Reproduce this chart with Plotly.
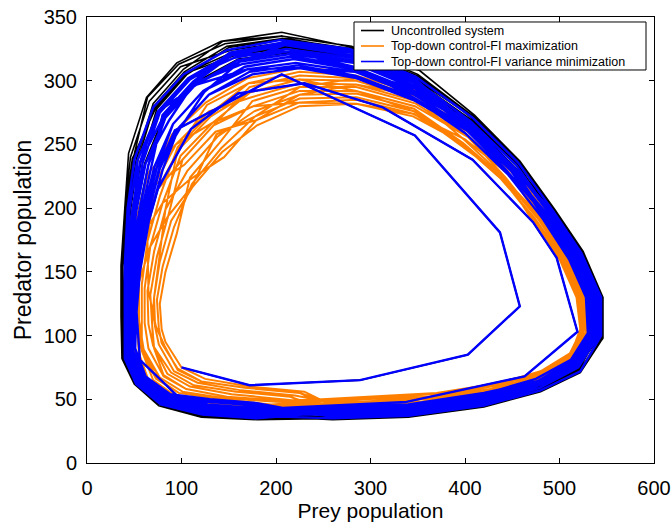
import plotly.graph_objects as go

# (prey, predator) states of the simulated runs. Each run is stored as a
# sequence of population cycles; within a cycle the states run counter-clockwise
# from the lower-left corner of the phase plane.

# Opening swings shared by the uncontrolled and variance-minimization runs,
# starting from (100, 75).
start_path = [
    (100, 75), (172, 61), (289, 65), (403, 85), (458, 123), (437, 181),
    (347, 257), (206, 305), (93, 261), (79, 238), (49, 154), (56, 81),
    (98, 51), (201, 43), (338, 48), (463, 68), (519, 103), (497, 161),
    (472, 189), (408, 238), (313, 279), (230, 298), (160, 290), (110, 262),
    (75, 215), (55, 162), (46, 118), (44, 85), (56, 62), (82, 47),
    (125, 40), (182, 37),
]

uncontrolled_cycles = [
    [(37, 82), (50, 62), (76, 45), (121, 36), (180, 34), (260, 34), (340, 36), (420, 44), (480, 56),
     (522, 71), (546, 98), (546, 130), (525, 166), (495, 199), (458, 237), (410, 273), (352, 308),
     (281, 326), (206, 338), (142, 331), (95, 314), (63, 287), (44, 243), (40, 200), (36, 155), (36, 115)],
    [(40, 83), (51, 63), (77, 46), (122, 38), (180, 35), (260, 35), (340, 37), (420, 45), (480, 57),
     (521, 72), (544, 99), (544, 130), (523, 165), (493, 198), (456, 236), (409, 271), (349, 304),
     (280, 325), (207, 333), (148, 327), (103, 307), (71, 280), (54, 238), (46, 198), (41, 154), (40, 115)],
    [(41, 84), (53, 64), (79, 48), (124, 40), (180, 38), (260, 37), (340, 39), (420, 47), (479, 58),
     (519, 74), (542, 100), (541, 130), (520, 164), (491, 197), (454, 234), (407, 269), (348, 300),
     (281, 320), (210, 328), (153, 322), (104, 306), (72, 280), (50, 239), (43, 199), (38, 154), (38, 115)],
    [(38, 82), (50, 62), (76, 45), (121, 37), (180, 35), (260, 34), (340, 36), (420, 44), (480, 56),
     (521, 71), (543, 99), (543, 130), (522, 165), (493, 198), (454, 234), (407, 269), (347, 298),
     (281, 318), (212, 326), (157, 320), (105, 306), (73, 279), (48, 239), (41, 200), (37, 155), (37, 115)],
    [(42, 84), (52, 64), (78, 47), (123, 40), (180, 37), (260, 37), (340, 39), (420, 47), (479, 57),
     (520, 72), (545, 98), (545, 130), (524, 166), (494, 199), (456, 236), (409, 271), (349, 302),
     (281, 324), (212, 333), (150, 326), (106, 305), (74, 278), (57, 236), (48, 198), (43, 153), (42, 115)],
    [(39, 83), (51, 63), (77, 46), (121, 37), (180, 35), (260, 35), (340, 37), (420, 45), (479, 57),
     (520, 73), (541, 100), (540, 130), (520, 164), (490, 197), (455, 235), (408, 270), (350, 305),
     (280, 327), (206, 335), (144, 331), (102, 309), (70, 282), (52, 238), (44, 199), (40, 154), (39, 115)],
    [(44, 85), (55, 64), (81, 49), (125, 42), (180, 39), (260, 39), (340, 41), (420, 49), (479, 59),
     (519, 74), (542, 99), (542, 130), (521, 164), (492, 197), (453, 232), (406, 267), (346, 295),
     (282, 315), (214, 322), (160, 317), (113, 298), (81, 272), (61, 235), (51, 197), (46, 153), (44, 115)],
    [(39, 83), (52, 63), (78, 46), (122, 39), (180, 36), (260, 36), (340, 38), (420, 46), (480, 57),
     (521, 72), (546, 98), (546, 130), (525, 166), (495, 199), (456, 236), (409, 271), (348, 301),
     (281, 322), (209, 330), (152, 324), (99, 311), (66, 284), (46, 240), (40, 200), (36, 155), (36, 115)],
    [(46, 86), (57, 65), (83, 50), (126, 44), (180, 41), (260, 40), (340, 42), (420, 50), (478, 60),
     (517, 76), (539, 100), (538, 130), (518, 163), (489, 196), (452, 232), (406, 267), (348, 299),
     (281, 319), (211, 327), (155, 321), (112, 299), (80, 273), (65, 234), (54, 196), (48, 152), (46, 115)],
    [(38, 83), (50, 62), (76, 45), (121, 37), (180, 35), (260, 35), (340, 37), (420, 45), (480, 57),
     (521, 72), (544, 99), (544, 130), (523, 165), (493, 198), (457, 236), (409, 272), (350, 305),
     (280, 327), (206, 335), (146, 329), (97, 313), (64, 287), (49, 239), (42, 199), (38, 155), (38, 115)],
]

fi_maximization_cycles = [
    [(51, 86), (66, 63), (89, 52), (130, 47), (185, 43), (264, 41), (343, 43), (421, 51), (478, 63),
     (514, 79), (535, 100), (535, 128), (518, 160), (490, 192), (454, 228), (407, 261), (350, 292),
     (285, 307), (225, 310), (170, 302), (126, 283), (90, 258), (68, 223), (55, 186), (48, 148), (47, 114)],
    [(65, 90), (81, 68), (105, 58), (148, 52), (205, 49), (280, 46), (355, 48), (425, 56), (479, 67),
     (513, 83), (530, 102), (529, 129), (512, 160), (483, 192), (448, 226), (403, 257), (348, 286),
     (285, 300), (225, 301), (173, 291), (133, 267), (99, 241), (80, 204), (67, 170), (61, 137), (61, 110)],
    [(79, 94), (96, 74), (121, 64), (167, 59), (225, 55), (296, 51), (367, 54), (429, 61), (480, 72),
     (511, 86), (526, 104), (524, 129), (506, 160), (477, 192), (440, 224), (398, 251), (346, 276),
     (285, 287), (225, 286), (178, 272), (142, 247), (111, 219), (92, 185), (80, 154), (74, 128), (76, 106)],
    [(58, 88), (73, 66), (97, 55), (139, 50), (195, 46), (272, 44), (349, 46), (423, 54), (478, 65),
     (514, 81), (533, 101), (533, 128), (516, 160), (488, 192), (447, 226), (403, 256), (347, 280),
     (285, 292), (225, 292), (176, 280), (134, 265), (101, 238), (74, 214), (61, 178), (55, 142), (55, 112)],
    [(70, 92), (85, 70), (109, 60), (153, 54), (210, 50), (284, 47), (358, 50), (426, 57), (479, 69),
     (512, 83), (529, 102), (527, 129), (510, 160), (481, 192), (448, 226), (403, 257), (349, 288),
     (285, 302), (225, 304), (172, 295), (134, 265), (101, 238), (86, 194), (74, 162), (67, 132), (69, 108)],
    [(58, 88), (77, 67), (101, 56), (144, 51), (200, 48), (276, 45), (352, 47), (424, 55), (479, 69),
     (512, 84), (525, 104), (522, 130), (504, 160), (474, 192), (438, 223), (397, 250), (346, 274),
     (285, 285), (225, 283), (179, 269), (136, 260), (103, 234), (71, 218), (58, 182), (51, 145), (51, 113)],
    [(83, 95), (100, 75), (125, 66), (172, 60), (230, 56), (300, 52), (370, 55), (430, 62), (479, 70),
     (512, 84), (532, 101), (531, 129), (514, 160), (485, 192), (447, 226), (403, 256), (348, 282),
     (285, 295), (225, 295), (175, 284), (140, 251), (109, 224), (95, 180), (83, 150), (77, 125), (79, 105)],
    [(58, 88), (70, 65), (93, 53), (134, 48), (190, 45), (268, 42), (346, 45), (422, 52), (479, 67),
     (513, 82), (528, 103), (526, 129), (508, 160), (479, 192), (448, 226), (403, 257), (350, 290),
     (285, 304), (225, 307), (171, 298), (130, 274), (96, 248), (77, 209), (64, 174), (58, 140), (58, 111)],
    [(70, 92), (89, 71), (113, 61), (158, 56), (215, 52), (288, 48), (361, 51), (427, 58), (480, 72),
     (511, 86), (523, 104), (520, 130), (502, 160), (472, 192), (439, 223), (398, 251), (346, 278),
     (285, 290), (225, 289), (177, 276), (138, 256), (106, 229), (83, 199), (71, 166), (64, 135), (65, 109)],
    [(47, 85), (62, 62), (85, 50), (125, 45), (180, 42), (260, 40), (340, 42), (420, 50), (478, 62),
     (515, 78), (536, 100), (537, 128), (520, 160), (492, 192), (451, 227), (405, 259), (348, 284),
     (285, 297), (225, 298), (174, 287), (129, 276), (94, 250), (65, 228), (52, 190), (45, 150), (44, 115)],
    [(76, 93), (92, 72), (117, 63), (163, 57), (220, 53), (292, 50), (364, 52), (428, 60), (479, 70),
     (512, 85), (528, 103), (526, 129), (508, 160), (479, 192), (439, 223), (398, 251), (345, 272),
     (285, 282), (225, 280), (180, 265), (143, 244), (112, 217), (89, 190), (77, 158), (71, 130), (72, 107)],
    [(60, 89), (77, 67), (101, 56), (144, 51), (200, 48), (276, 45), (352, 47), (424, 55), (479, 70),
     (512, 85), (522, 105), (518, 130), (500, 160), (470, 192), (442, 224), (400, 253), (348, 286),
     (285, 300), (225, 301), (173, 291), (131, 272), (97, 246), (74, 214), (61, 178), (55, 142), (55, 112)],
    [(71, 90), (81, 69), (105, 58), (148, 52), (205, 49), (280, 46), (355, 48), (425, 56), (479, 68),
     (512, 83), (529, 102), (527, 129), (510, 160), (481, 192), (441, 224), (396, 249), (346, 276),
     (285, 292), (225, 301), (171, 298), (127, 281), (96, 246), (83, 199), (76, 158), (71, 130), (69, 108)],
    [(60, 87), (73, 67), (97, 55), (139, 50), (195, 46), (272, 44), (349, 46), (423, 54), (479, 66),
     (514, 81), (532, 102), (531, 129), (514, 160), (485, 192), (451, 227), (407, 261), (349, 288),
     (285, 297), (225, 289), (179, 269), (145, 240), (108, 222), (80, 204), (61, 181), (52, 145), (52, 113)],
    [(82, 92), (96, 73), (121, 64), (167, 59), (225, 55), (296, 51), (367, 54), (429, 61), (479, 69),
     (512, 83), (533, 101), (533, 128), (516, 160), (488, 192), (447, 226), (400, 254), (345, 274),
     (285, 282), (225, 283), (176, 280), (133, 267), (94, 250), (71, 218), (64, 174), (65, 135), (73, 107)],
    [(55, 86), (66, 63), (89, 52), (130, 47), (185, 43), (264, 41), (343, 43), (421, 51), (479, 66),
     (512, 83), (526, 104), (524, 129), (506, 160), (477, 192), (443, 224), (403, 256), (348, 286),
     (285, 302), (225, 295), (178, 272), (137, 258), (111, 217), (86, 194), (67, 170), (55, 142), (52, 113)],
]

fi_variance_minimization_cycles = [
    [(40, 82), (52, 62), (78, 46), (122, 38), (180, 35), (260, 35), (340, 37), (420, 45), (480, 57),
     (522, 72), (544, 100), (544, 130), (523, 165), (493, 198), (456, 236), (408, 271), (348, 303),
     (278, 325), (205, 332), (148, 324), (102, 305), (70, 279), (50, 238), (43, 200), (40, 155), (40, 115)],
    [(46, 86), (57, 65), (83, 50), (126, 44), (180, 41), (260, 40), (340, 42), (420, 50), (478, 61),
     (518, 76), (540, 101), (539, 130), (519, 164), (490, 196), (452, 232), (405, 266), (347, 296),
     (281, 316), (213, 323), (159, 316), (115, 297), (83, 271), (65, 234), (55, 196), (48, 152), (46, 115)],
    [(43, 84), (54, 63), (80, 48), (124, 40), (180, 37), (260, 37), (340, 39), (420, 47), (478, 61),
     (518, 77), (534, 101), (533, 130), (514, 162), (485, 194), (451, 231), (404, 265), (347, 299),
     (279, 320), (209, 328), (153, 320), (109, 301), (77, 275), (59, 236), (50, 198), (45, 153), (44, 115)],
    [(49, 88), (60, 67), (86, 52), (128, 48), (180, 45), (260, 42), (340, 44), (420, 53), (477, 63),
     (516, 79), (537, 101), (536, 130), (516, 162), (487, 195), (449, 229), (403, 263), (346, 289),
     (284, 307), (221, 314), (170, 309), (123, 292), (91, 266), (71, 232), (59, 194), (51, 152), (48, 115)],
    [(43, 84), (55, 64), (81, 48), (124, 42), (180, 39), (260, 38), (340, 40), (420, 48), (479, 59),
     (520, 75), (541, 100), (541, 130), (520, 164), (491, 197), (452, 232), (405, 266), (346, 292),
     (282, 311), (217, 319), (164, 313), (113, 298), (81, 272), (56, 236), (48, 198), (43, 154), (42, 115)],
    [(47, 87), (58, 66), (84, 51), (127, 45), (180, 42), (260, 40), (340, 42), (420, 51), (476, 64),
     (514, 80), (531, 102), (530, 130), (511, 161), (483, 193), (450, 230), (404, 264), (348, 301),
     (279, 323), (207, 330), (151, 322), (112, 299), (80, 273), (68, 233), (57, 195), (50, 152), (47, 115)],
    [(51, 90), (62, 68), (88, 54), (130, 50), (180, 47), (260, 44), (340, 46), (420, 55), (476, 64),
     (514, 80), (536, 101), (534, 130), (515, 162), (486, 194), (447, 227), (402, 261), (345, 285),
     (285, 302), (225, 310), (175, 305), (129, 289), (97, 263), (77, 231), (64, 193), (54, 151), (51, 115)],
    [(41, 83), (53, 63), (79, 47), (123, 39), (180, 36), (260, 36), (340, 38), (420, 46), (479, 59),
     (520, 75), (538, 101), (538, 130), (518, 163), (489, 196), (452, 232), (405, 266), (347, 298),
     (280, 318), (211, 325), (156, 318), (108, 302), (76, 276), (53, 237), (45, 199), (42, 155), (41, 115)],
    [(49, 88), (59, 66), (85, 52), (128, 46), (180, 43), (260, 41), (340, 43), (420, 52), (478, 61),
     (518, 76), (543, 100), (542, 130), (522, 165), (492, 197), (452, 232), (405, 266), (346, 290),
     (283, 309), (219, 317), (167, 311), (123, 292), (91, 266), (74, 232), (61, 194), (53, 151), (50, 115)],
    [(45, 85), (56, 64), (82, 49), (125, 43), (180, 40), (260, 39), (340, 41), (420, 49), (477, 62),
     (516, 78), (533, 102), (531, 130), (513, 161), (484, 193), (449, 229), (403, 263), (347, 294),
     (282, 314), (215, 321), (162, 315), (115, 297), (83, 271), (62, 235), (52, 197), (46, 153), (45, 115)],
    [(51, 90), (61, 67), (87, 53), (129, 49), (180, 46), (260, 43), (340, 45), (420, 54), (475, 66),
     (512, 81), (530, 102), (528, 130), (510, 160), (482, 192), (446, 226), (400, 259), (345, 287),
     (284, 304), (223, 312), (172, 307), (129, 289), (97, 263), (80, 230), (66, 192), (56, 150), (52, 115)],
    [(42, 84), (54, 63), (80, 48), (124, 40), (180, 37), (260, 37), (340, 39), (420, 47), (479, 59),
     (520, 75), (540, 101), (539, 130), (519, 164), (490, 196), (454, 234), (406, 268), (348, 300),
     (279, 322), (208, 329), (152, 321), (107, 302), (75, 276), (56, 236), (48, 198), (43, 154), (42, 115)],
    [(47, 87), (57, 65), (83, 50), (126, 44), (180, 41), (260, 40), (340, 42), (420, 50), (478, 61),
     (518, 76), (538, 101), (538, 130), (518, 163), (489, 196), (454, 234), (406, 267), (347, 294),
     (284, 307), (225, 310), (170, 309), (116, 297), (76, 276), (53, 237), (50, 198), (48, 153), (47, 115)],
    [(42, 84), (55, 64), (81, 48), (124, 42), (180, 39), (260, 38), (340, 40), (420, 48), (478, 62),
     (515, 79), (534, 101), (533, 130), (514, 162), (485, 194), (447, 227), (403, 263), (347, 298),
     (279, 323), (209, 328), (162, 315), (124, 291), (98, 262), (74, 232), (55, 196), (45, 154), (42, 115)],
    [(46, 86), (58, 66), (85, 52), (128, 46), (180, 43), (260, 41), (340, 43), (420, 52), (478, 61),
     (519, 75), (541, 100), (541, 130), (520, 164), (491, 197), (451, 231), (402, 262), (345, 287),
     (282, 311), (213, 323), (153, 320), (113, 298), (87, 269), (62, 235), (48, 198), (42, 155), (44, 115)],
]

series_names = [
    "Uncontrolled system",
    "Top-down control-FI maximization",
    "Top-down control-FI variance minimization",
]
series_colors = ["#000000", "#FF8000", "#0000FF"]
series_widths = [1.6, 2.0, 2.4]

x_ticks = [0, 100, 200, 300, 400, 500, 600]
y_ticks = [0, 50, 100, 150, 200, 250, 300, 350]


def trajectory(opening, cycles):
    # Chain the cycles into one time series; each cycle is entered along the
    # lower edge of the orbit, where successive cycles run closest together.
    path = list(opening)
    for cyc in cycles:
        path.extend(cyc[5:] + cyc[:5])
    return path


trajectories = [
    trajectory(start_path, uncontrolled_cycles),
    trajectory([], fi_maximization_cycles),
    trajectory(start_path, fi_variance_minimization_cycles),
]

FONT = "Liberation Sans, Arial, Helvetica, sans-serif"

fig = go.Figure()
for name, color, width, path in zip(series_names, series_colors, series_widths, trajectories):
    prey, predator = zip(*path)
    fig.add_trace(go.Scatter(
        x=list(prey), y=list(predator), mode="lines", name=name,
        line=dict(color=color, width=width), showlegend=False,
    ))

axis_style = dict(
    showline=True, linecolor="black", linewidth=1, mirror="ticks",
    ticks="inside", ticklen=5, tickwidth=1, tickcolor="black",
    showgrid=False, zeroline=False, automargin=False,
    tickfont=dict(family=FONT, size=20, color="black"),
)

fig.update_xaxes(range=[0, 600], tickvals=x_ticks, ticklabelstandoff=7,
                 title=dict(text="Prey population", standoff=4,
                            font=dict(family=FONT, size=21, color="black")),
                 **axis_style)
fig.update_yaxes(range=[0, 350], tickvals=y_ticks, ticklabelstandoff=5,
                 title=dict(text="Predator population", standoff=5,
                            font=dict(family=FONT, size=23, color="black")),
                 **axis_style)

# Boxed key in the upper right corner of the axes
key_box = dict(x0=0.4709, x1=0.9859, y0=0.8812, y1=0.9888)
key_rows = [0.9697, 0.9350, 0.9002]
shapes = [dict(type="rect", xref="paper", yref="paper", **key_box,
               line=dict(color="black", width=1), fillcolor="white", layer="above")]
annotations = []
for name, color, yrow in zip(series_names, series_colors, key_rows):
    shapes.append(dict(type="line", xref="paper", yref="paper",
                       x0=0.4832, x1=0.5238, y0=yrow, y1=yrow,
                       line=dict(color=color, width=1.6), layer="above"))
    annotations.append(dict(xref="paper", yref="paper", x=0.5344, y=yrow,
                            xanchor="left", yanchor="middle", text=name,
                            showarrow=False, borderpad=0,
                            font=dict(family=FONT, size=12.5, color="black")))

fig.update_layout(
    width=672, height=526,
    margin=dict(l=87, r=18, t=17, b=63),
    paper_bgcolor="white", plot_bgcolor="white",
    font=dict(family=FONT, color="black"),
    shapes=shapes, annotations=annotations,
    showlegend=False,
)

fig.write_html("out.html")
